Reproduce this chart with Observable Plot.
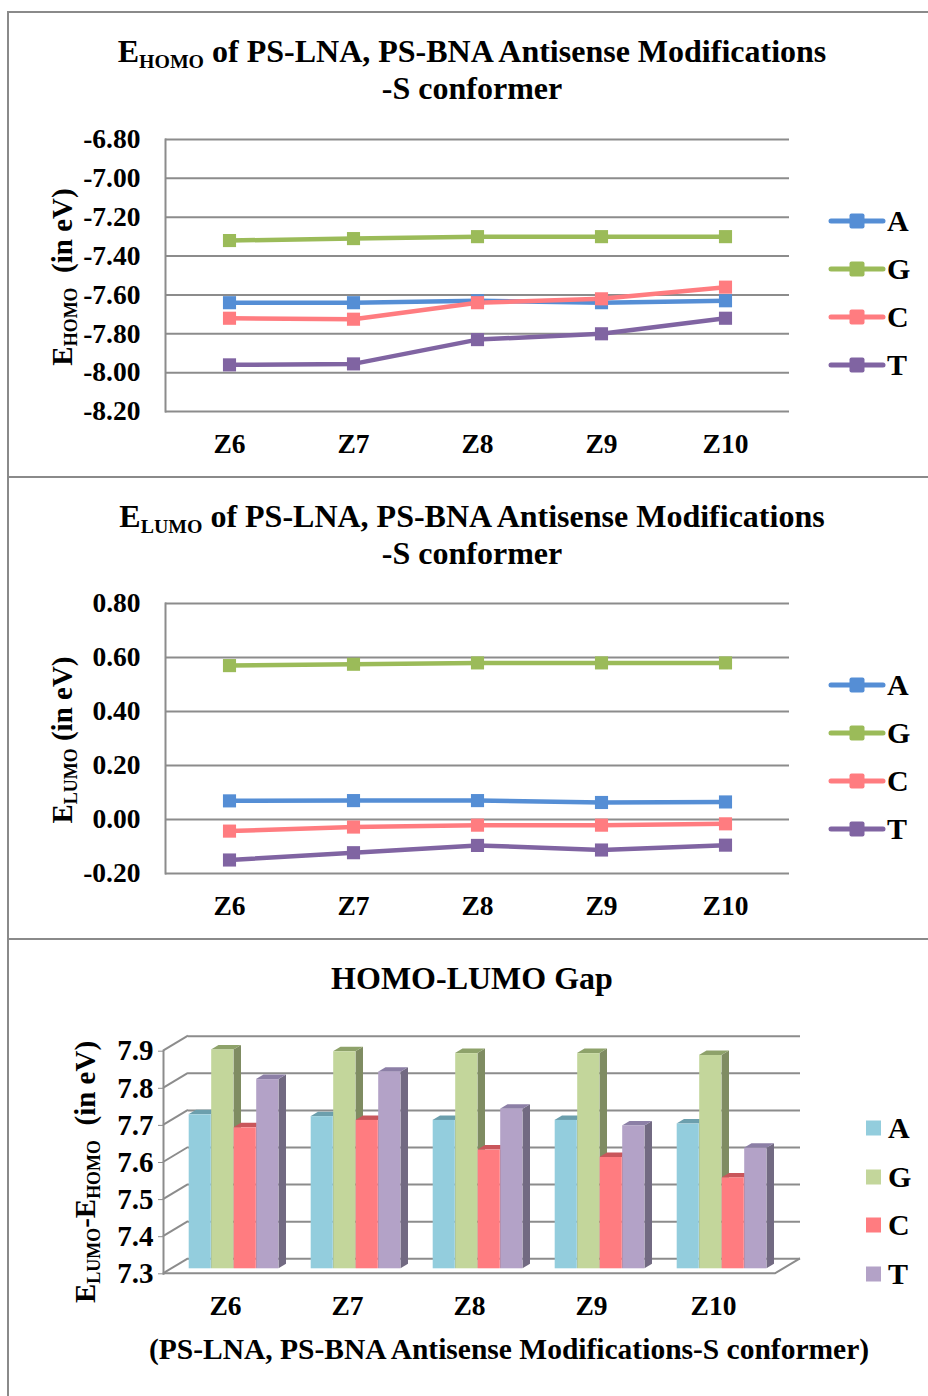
<!DOCTYPE html>
<html><head><meta charset="utf-8">
<script src="https://cdn.jsdelivr.net/npm/d3@7"></script>
<script src="https://cdn.jsdelivr.net/npm/@observablehq/plot@0.6"></script>
<style>
body{margin:0;background:#fff;}
#page{position:relative;width:928px;height:1396px;overflow:hidden;font-family:"Liberation Serif","Times New Roman",serif;font-weight:bold;color:#000;}
.bd{position:absolute;background:#8a8a8a;}
.title{position:absolute;left:0;width:944px;text-align:center;font-size:32px;line-height:37px;white-space:nowrap;}
sub{font-size:0.62em;vertical-align:-0.28em;line-height:0;}
.chart{position:absolute;left:0;}
.ylab{position:absolute;transform:translate(-50%,-50%) rotate(-90deg);white-space:pre;font-size:29px;line-height:1;}
.leg{position:absolute;display:flex;align-items:center;font-size:30px;line-height:1;transform:translateY(-50%);}
</style></head>
<body><div id="page"></div>
<script>
// ---------- data ----------
const groups = ["Z6", "Z7", "Z8", "Z9", "Z10"];
const bases = ["A", "G", "C", "T"];

const homoA = [-7.64, -7.64, -7.63, -7.64, -7.63];
const homoG = [-7.32, -7.31, -7.30, -7.30, -7.30];
const homoC = [-7.72, -7.725, -7.64, -7.62, -7.56];
const homoT = [-7.96, -7.955, -7.83, -7.80, -7.72];
const homoTicks = [-8.2, -8.0, -7.8, -7.6, -7.4, -7.2, -7.0, -6.8];

const lumoA = [0.069, 0.07, 0.07, 0.063, 0.065];
const lumoG = [0.57, 0.575, 0.58, 0.58, 0.58];
const lumoC = [-0.043, -0.028, -0.021, -0.021, -0.016];
const lumoT = [-0.150, -0.123, -0.096, -0.113, -0.095];
const lumoTicks = [-0.2, 0.0, 0.2, 0.4, 0.6, 0.8];

const gapA = [7.715, 7.71, 7.70, 7.70, 7.69];
const gapG = [7.89, 7.885, 7.88, 7.88, 7.875];
const gapC = [7.68, 7.70, 7.62, 7.60, 7.545];
const gapT = [7.81, 7.83, 7.73, 7.685, 7.625];
const gapTicks = [7.3, 7.4, 7.5, 7.6, 7.7, 7.8, 7.9];

const lineColors = ["#558ED5", "#9BBB59", "#FF7C80", "#8064A2"];
const barFront = ["#93CDDD", "#C3D69B", "#FF7C80", "#B3A2C7"];
const barTop = ["#6C9FAD", "#8EA26A", "#C9565B", "#8C7FA6"];
const barSide = ["#6E909A", "#7F8C62", "#B55054", "#726A82"];

// ---------- helpers ----------
const page = document.getElementById("page");
const FONT = "Liberation Serif, Times New Roman, serif";
const GRID = "#8c8c8c";
const TICK_FS = 27.5;
function html(s) { const d = document.createElement("div"); d.innerHTML = s; const n = d.firstElementChild; page.appendChild(n); return n; }
function place(node, top) { const w = document.createElement("div"); w.className = "chart"; w.style.top = top + "px"; w.appendChild(node); page.appendChild(w); }
function tidy(series) { const out = []; bases.forEach((b, j) => series[j].forEach((v, i) => out.push({group: groups[i], base: b, j, value: v}))); return out; }

// borders
html('<div class="bd" style="left:7px;top:11px;width:930px;height:2px"></div>');
html('<div class="bd" style="left:7px;top:11px;width:2px;height:1400px"></div>');
html('<div class="bd" style="left:7px;top:476px;width:930px;height:2px"></div>');
html('<div class="bd" style="left:7px;top:938px;width:930px;height:2px"></div>');

function lineLegend(topY) {
  bases.forEach((b, j) => {
    html(`<div class="leg" style="left:828px;top:${topY + 48 * j}px"><svg width="58" height="18" style="margin-right:1px"><line x1="3" y1="9" x2="55" y2="9" stroke="${lineColors[j]}" stroke-width="5" stroke-linecap="round"/><rect x="21.5" y="1.5" width="15" height="15" rx="2" fill="${lineColors[j]}"/></svg><span>${b}</span></div>`);
  });
}

function lineChart({series, svgTop, H, plotTop, plotBottom, domain, ticks, fmt}) {
  const data = tidy(series);
  const svg = Plot.plot({
    width: 928, height: H,
    marginLeft: 165, marginRight: 139,
    marginTop: plotTop - svgTop, marginBottom: svgTop + H - plotBottom,
    style: {fontFamily: FONT, fontWeight: "bold", fontSize: TICK_FS + "px", color: "#000", background: "transparent", overflow: "visible"},
    x: {type: "point", domain: groups, padding: 0.5, label: null},
    y: {domain, label: null},
    color: {domain: bases, range: lineColors},
    marks: [
      Plot.ruleY(ticks, {stroke: GRID, strokeWidth: 2}),
      Plot.frame({anchor: "left", stroke: GRID, strokeWidth: 2}),
      Plot.axisY({ticks, tickFormat: fmt, tickSize: 0, tickPadding: 25, fontSize: TICK_FS, fontWeight: "bold", label: null}),
      Plot.axisX({tickSize: 0, tickPadding: 22, fontSize: TICK_FS, fontWeight: "bold", label: null}),
      Plot.line(data, {x: "group", y: "value", z: "base", stroke: "base", strokeWidth: 4.5}),
      Plot.dot(data, {x: "group", y: "value", fill: "base", symbol: "square", r: 7.4})
    ]
  });
  place(svg, svgTop);
}

// ---------- chart 1: HOMO ----------
html('<div class="title" style="top:33px">E<sub>HOMO</sub> of PS-LNA, PS-BNA Antisense Modifications<br>-S conformer</div>');
html('<div class="ylab" style="left:62px;top:277px">E<sub>HOMO</sub>  (in eV)</div>');
lineChart({series: [homoA, homoG, homoC, homoT], svgTop: 100, H: 370, plotTop: 139, plotBottom: 411,
  domain: [-8.2, -6.8], ticks: homoTicks, fmt: d => d.toFixed(2)});
lineLegend(221);

// ---------- chart 2: LUMO ----------
html('<div class="title" style="top:498px">E<sub>LUMO</sub> of PS-LNA, PS-BNA Antisense Modifications<br>-S conformer</div>');
html('<div class="ylab" style="left:62px;top:740px">E<sub>LUMO</sub> (in eV)</div>');
lineChart({series: [lumoA, lumoG, lumoC, lumoT], svgTop: 575, H: 360, plotTop: 603, plotBottom: 873,
  domain: [-0.2, 0.8], ticks: lumoTicks, fmt: d => d.toFixed(2)});
lineLegend(685);

// ---------- chart 3: gap (3-D columns) ----------
html('<div class="title" style="top:960px">HOMO-LUMO Gap</div>');
html('<div class="ylab" style="left:85px;top:1172px">E<sub>LUMO</sub>-E<sub>HOMO</sub>  (in eV)</div>');
html('<div class="title" style="top:1331px;left:37px;font-size:29.5px">(PS-LNA, PS-BNA Antisense Modifications-S conformer)</div>');

const gapData = tidy([gapA, gapG, gapC, gapT]);
const barW = 22.5, depX = 7.5, depY = 4.5, shiftX = 8.5, shiftY = 5, wallX = 25, wallY = 15;
const gSvgTop = 1000, gH = 320, gTop = 1050.7, gBottom = 1273.3, gLeft = 163, gRight = 775;
const bandW = (gRight - gLeft) / groups.length;
const gapBase = gapTicks[0];

function walls(index, scales, values, dims) {
  const y = scales.y;
  const g = d3.create("svg:g").attr("stroke", GRID).attr("stroke-width", 2).attr("fill", "none");
  gapTicks.forEach(v => g.append("line").attr("x1", dims.marginLeft).attr("y1", y(v)).attr("x2", dims.marginLeft + wallX).attr("y2", y(v) - wallY));
  const x0 = dims.marginLeft, x1 = dims.width - dims.marginRight, yb = y(gapBase);
  g.append("path").attr("d", `M${x0},${yb}L${x1},${yb}L${x1 + wallX},${yb - wallY}`);
  return g.node();
}
function faces(index, scales) {
  const {x, y} = scales;
  const bw = x.bandwidth ? x.bandwidth() : bandW;
  const q = gapData.map(d => {
    const l = x(d.group) + (bw - bases.length * barW) / 2 + d.j * barW + shiftX;
    return {d, l, r: l + barW, t: y(d.value) - shiftY, b: y(gapBase) - shiftY};
  });
  const g = d3.create("svg:g");
  g.selectAll("path.side").data(q).join("path").attr("class", "side")
    .attr("d", p => `M${p.r},${p.t}L${p.r + depX},${p.t - depY}L${p.r + depX},${p.b - depY}L${p.r},${p.b}Z`)
    .attr("fill", p => barSide[p.d.j]);
  g.selectAll("path.top").data(q).join("path").attr("class", "top")
    .attr("d", p => `M${p.l},${p.t}L${p.l + depX},${p.t - depY}L${p.r + depX},${p.t - depY}L${p.r},${p.t}Z`)
    .attr("fill", p => barTop[p.d.j]);
  return g.node();
}

const ins = (bandW - barW) / 2;
const gapSvg = Plot.plot({
  width: 928, height: gH,
  marginLeft: gLeft, marginRight: 928 - gRight,
  marginTop: gTop - gSvgTop, marginBottom: gSvgTop + gH - gBottom,
  style: {fontFamily: FONT, fontWeight: "bold", fontSize: TICK_FS + "px", color: "#000", background: "transparent", overflow: "visible"},
  x: {type: "band", domain: groups, padding: 0, label: null},
  y: {domain: [gapTicks[0], gapTicks[gapTicks.length - 1]], label: null},
  marks: [
    Plot.ruleY(gapTicks, {stroke: GRID, strokeWidth: 2, dx: wallX, dy: -wallY}),
    walls,
    Plot.frame({anchor: "left", stroke: GRID, strokeWidth: 2}),
    Plot.axisY({ticks: gapTicks, tickFormat: d => d.toFixed(1), tickSize: 5, tickPadding: 5, stroke: GRID, fill: "#000", fontSize: 29, fontWeight: "bold", label: null}),
    Plot.axisX({tickSize: 0, tickPadding: 22, fontSize: TICK_FS, fontWeight: "bold", label: null}),
    faces,
    ...bases.map((b, j) => Plot.barY(gapData.filter(d => d.j === j), {
      x: "group", y1: gapBase, y2: "value", fill: barFront[j],
      insetLeft: ins, insetRight: ins, dx: shiftX + (j - 1.5) * barW, dy: -shiftY
    }))
  ]
});
place(gapSvg, gSvgTop);

bases.forEach((b, j) => {
  html(`<div class="leg" style="left:866px;top:${1128 + 48.5 * j}px"><svg width="22" height="16"><rect x="0" y="0.5" width="15" height="15" fill="${barFront[j]}"/></svg><span>${b}</span></div>`);
});
</script>
</body></html>
